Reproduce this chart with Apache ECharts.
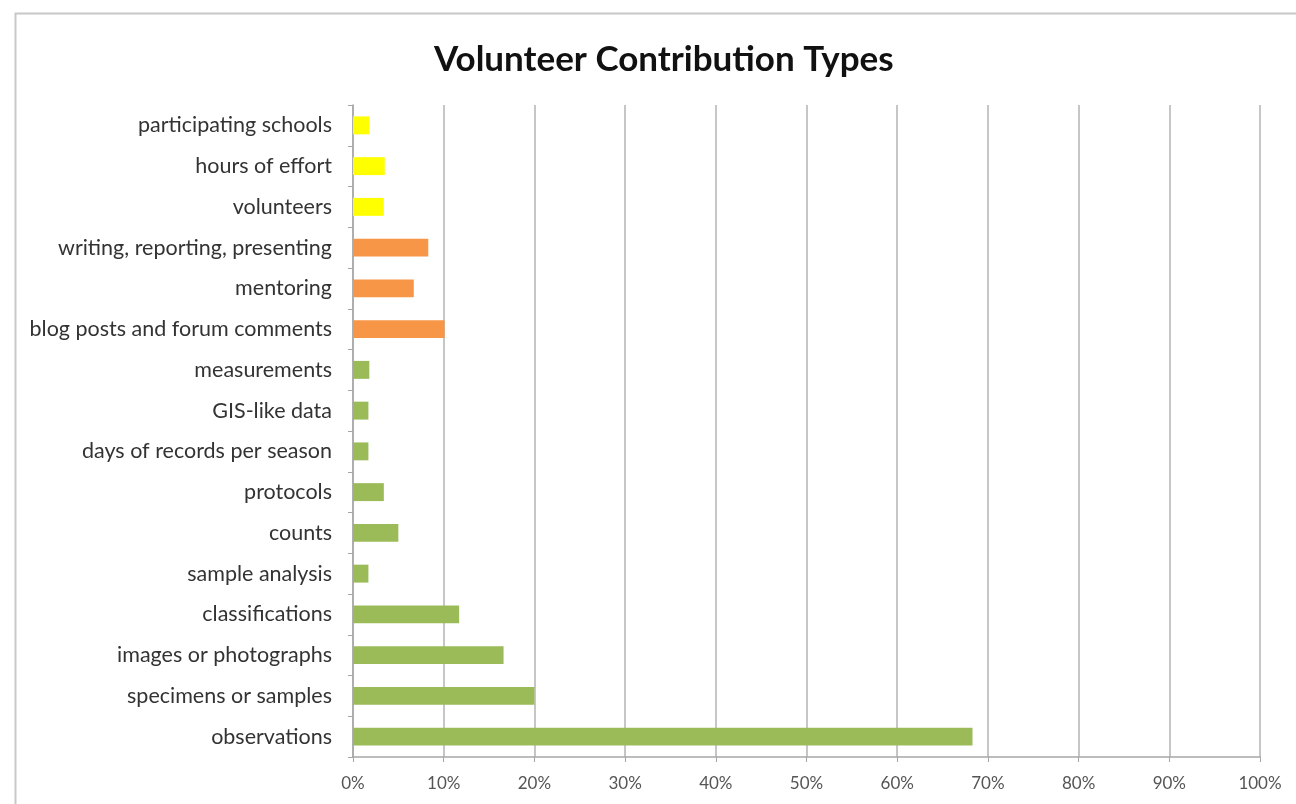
<!DOCTYPE html>
<html>
<head>
<meta charset="utf-8">
<script src="https://cdn.jsdelivr.net/npm/echarts@6/dist/echarts.min.js"></script>
<style>
html,body{margin:0;padding:0;background:#fff;}
#chart{width:1296px;height:804px;}
</style>
</head>
<body>
<div id="chart"></div>
<script>
// bottom-to-top order (as drawn on the category axis)
const categories = [
  "observations",
  "specimens or samples",
  "images or photographs",
  "classifications",
  "sample analysis",
  "counts",
  "protocols",
  "days of records per season",
  "GIS-like data",
  "measurements",
  "blog posts and forum comments",
  "mentoring",
  "writing, reporting, presenting",
  "volunteers",
  "hours of effort",
  "participating schools"
];
const values = [68.3, 20.0, 16.6, 11.7, 1.7, 5.0, 3.4, 1.7, 1.7, 1.8, 10.1, 6.7, 8.3, 3.4, 3.5, 1.8];
const groups = ["data","data","data","data","data","data","data","data","data","data",
                "communication","communication","communication",
                "participation","participation","participation"];
const xTicks = [0,10,20,30,40,50,60,70,80,90,100];

const groupColors = {data:"#9BBB59", communication:"#F79646", participation:"#FFFF00"};

const chart = echarts.init(document.getElementById('chart'));
chart.setOption({
  animation:false,
  backgroundColor:'#fff',
  graphic:[{
    type:'rect', left:13, top:11,
    shape:{width:1400, height:900},
    style:{fill:'none', stroke:'#c8c8c8', lineWidth:2}
  }],
  title:{
    text:'Volunteer Contribution Types',
    left:429, top:37,
    textStyle:{fontFamily:'Lato', fontWeight:'bold', fontSize:35, color:'#111'}
  },
  grid:{left:353, right:36, top:105, bottom:47, containLabel:false},
  xAxis:{
    type:'value', min:xTicks[0], max:xTicks[xTicks.length-1], interval:10,
    axisLine:{show:true, lineStyle:{color:'#a6a6a6', width:1.5}},
    axisTick:{show:true, length:5, lineStyle:{color:'#a6a6a6'}},
    splitLine:{show:true, lineStyle:{color:'#b3b3b3', width:1.5}},
    axisLabel:{formatter:'{value}%', fontFamily:'Lato', fontSize:17, color:'#555', margin:18}
  },
  yAxis:{
    type:'category', data:categories,
    axisLine:{show:true, lineStyle:{color:'#a6a6a6', width:1.5}},
    axisTick:{show:true, length:5, inside:false, lineStyle:{color:'#a6a6a6'}},
    axisLabel:{fontFamily:'Lato', fontSize:21.5, color:'#333', margin:21}
  },
  series:[{
    type:'bar',
    data: values.map((v,i)=>({value:v, itemStyle:{color:groupColors[groups[i]]}})),
    barCategoryGap:'56%'
  }]
});
</script>
</body>
</html>
